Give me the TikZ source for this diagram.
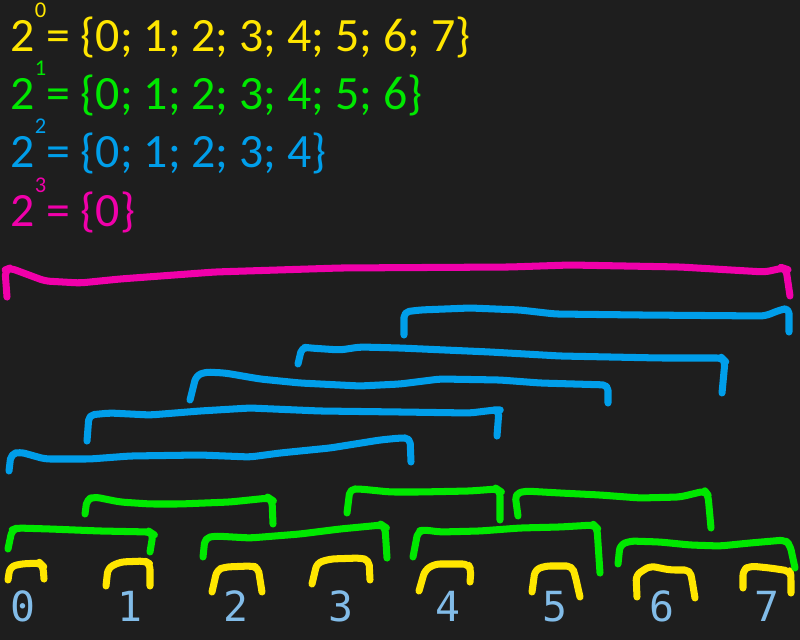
\documentclass[tikz,border=0pt]{standalone}
\usepackage{fontspec}
\setmainfont{Carlito}
\newfontfamily\digitfont{DejaVu Sans Mono}
\usepackage{xcolor}
\definecolor{bgdark}{RGB}{30, 30, 30}
\definecolor{penyellow}{RGB}{255, 230, 0}
\definecolor{pengreen}{RGB}{0, 232, 0}
\definecolor{penblue}{RGB}{0, 158, 234}
\definecolor{penpink}{RGB}{240, 0, 170}
\definecolor{digitblue}{RGB}{130, 188, 232}

\begin{document}
\begin{tikzpicture}[
    x=0.01cm, y=-0.01cm,
    pen/.style={draw=#1, line width=2pt, line cap=round, line join=round, rounded corners=1.5pt},
    pen/.default=penyellow,
    setline/.style={anchor=base west, inner sep=0pt, text=#1, font=\fontsize{13.6}{16}\selectfont},
    digit/.style={anchor=base, inner sep=0pt, text=digitblue, font=\digitfont\fontsize{11.8}{14}\selectfont}
]
    \fill[bgdark] (0,0) rectangle (800,640);
    \useasboundingbox (0,0) rectangle (800,640);

    % ==========================================
    % SETS (top left)
    % ==========================================
    \node[setline=penyellow] (set_0) at (10, 52)  {2\raisebox{0.72em}{\fontsize{6.4}{7}\selectfont 0}= \{0; 1; 2; 3; 4; 5; 6; 7\}};
    \node[setline=pengreen]  (set_1) at (10, 110) {2\raisebox{0.72em}{\fontsize{6.4}{7}\selectfont 1}= \{0; 1; 2; 3; 4; 5; 6\}};
    \node[setline=penblue]   (set_2) at (10, 168) {2\raisebox{0.72em}{\fontsize{6.4}{7}\selectfont 2}= \{0; 1; 2; 3; 4\}};
    \node[setline=penpink]   (set_3) at (10, 227) {2\raisebox{0.72em}{\fontsize{6.4}{7}\selectfont 3}= \{0\}};

    % ==========================================
    % INDICES (bottom row)
    % ==========================================
    \node[digit] (d0) at (23, 621)  {0};
    \node[digit] (d1) at (130, 621) {1};
    \node[digit] (d2) at (236, 621) {2};
    \node[digit] (d3) at (341, 621) {3};
    \node[digit] (d4) at (448, 621) {4};
    \node[digit] (d5) at (555, 621) {5};
    \node[digit] (d6) at (662, 621) {6};
    \node[digit] (d7) at (767, 621) {7};

    % ==========================================
    % 2^0 brackets (yellow, one per index)
    % ==========================================
    \draw[pen] (8,580) -- (10,567) -- (20,564) -- (40,563) -- (43,566) -- (44,579);
    \draw[pen] (106,586) -- (108,568) -- (120,562) -- (145,561) -- (150,564) -- (150,586);
    \draw[pen] (212,592) -- (217,570) -- (225,567) -- (250,566) -- (258,567) -- (262,592);
    \draw[pen] (312,584) -- (317,563) -- (330,559) -- (360,558) -- (369,560) -- (370,580);
    \draw[pen] (419,591) -- (425,570) -- (435,564) -- (468,564) -- (471,570) -- (470,582);
    \draw[pen] (532,592) -- (535,570) -- (545,566) -- (572,566) -- (575,575) -- (580,597);
    \draw[pen] (637,597) -- (636,575) -- (650,566) -- (670,570) -- (690,570) -- (692,580) -- (695,598);
    \draw[pen] (743,588) -- (743,570) -- (750,566) -- (770,568) -- (790,571) -- (791,576) -- (791,593);

    % ==========================================
    % 2^1 brackets (green, pairs)
    % ==========================================
    % lower row
    \draw[pen=pengreen] (8,549) -- (12,530) -- (17,528) -- (50,529) -- (100,531) -- (150,532) -- (153,534) -- (150,552);
    \draw[pen=pengreen] (203,557) -- (205,538) -- (215,536) -- (250,538) -- (300,534) -- (340,529) -- (382,525) -- (385,527) -- (387,558);
    \draw[pen=pengreen] (413,557) -- (418,531) -- (425,530) -- (440,532) -- (480,531) -- (520,528) -- (560,527) -- (594,525) -- (597,528) -- (600,573);
    \draw[pen=pengreen] (618,564) -- (620,545) -- (630,541) -- (660,542) -- (690,545) -- (720,546) -- (750,543) -- (785,540) -- (790,545) -- (795,568);
    % upper row
    \draw[pen=pengreen] (85,514) -- (87,499) -- (95,497) -- (120,502) -- (150,504) -- (180,504) -- (230,502) -- (269,498) -- (272,500) -- (273,524);
    \draw[pen=pengreen] (347,513) -- (350,489) -- (360,489) -- (390,492) -- (420,492) -- (470,491) -- (497,489) -- (500,491) -- (500,520);
    \draw[pen=pengreen] (518,516) -- (515,494) -- (525,491) -- (560,493) -- (600,495) -- (640,498) -- (680,497) -- (705,491) -- (708,495) -- (711,528);

    % ==========================================
    % 2^2 brackets (blue, runs of four)
    % ==========================================
    \draw[pen=penblue] (9,471) -- (11,454) -- (20,452) -- (45,459) -- (90,459) -- (130,456) -- (200,455) -- (250,457) -- (280,453) -- (330,448) -- (380,440) -- (400,438) -- (410,438) -- (411,462);
    \draw[pen=penblue] (87,441) -- (89,415) -- (110,413) -- (150,415) -- (200,411) -- (250,408) -- (320,411) -- (400,412) -- (470,413) -- (495,410) -- (499,410) -- (497,436);
    \draw[pen=penblue] (190,400) -- (196,376) -- (205,372) -- (225,373) -- (260,379) -- (300,383) -- (360,386) -- (400,384) -- (440,379) -- (500,380) -- (540,383) -- (608,385) -- (608,403);
    \draw[pen=penblue] (298,364) -- (302,347) -- (310,348) -- (340,350) -- (360,347) -- (400,348) -- (490,352) -- (560,356) -- (660,358) -- (722,358) -- (725,361) -- (722,393);
    \draw[pen=penblue] (404,335) -- (404,312) -- (420,310) -- (470,308) -- (520,310) -- (555,314) -- (640,315) -- (765,316) -- (780,310) -- (789,308) -- (789,332);

    % ==========================================
    % 2^3 bracket (pink, all eight)
    % ==========================================
    \draw[pen=penpink] (7,297) -- (5,270) -- (10,268) -- (45,281) -- (80,283) -- (120,279) -- (215,272) -- (340,268) -- (510,267) -- (570,265) -- (680,267) -- (765,272) -- (783,268) -- (786,269) -- (790,296);

\end{tikzpicture}
\end{document}
